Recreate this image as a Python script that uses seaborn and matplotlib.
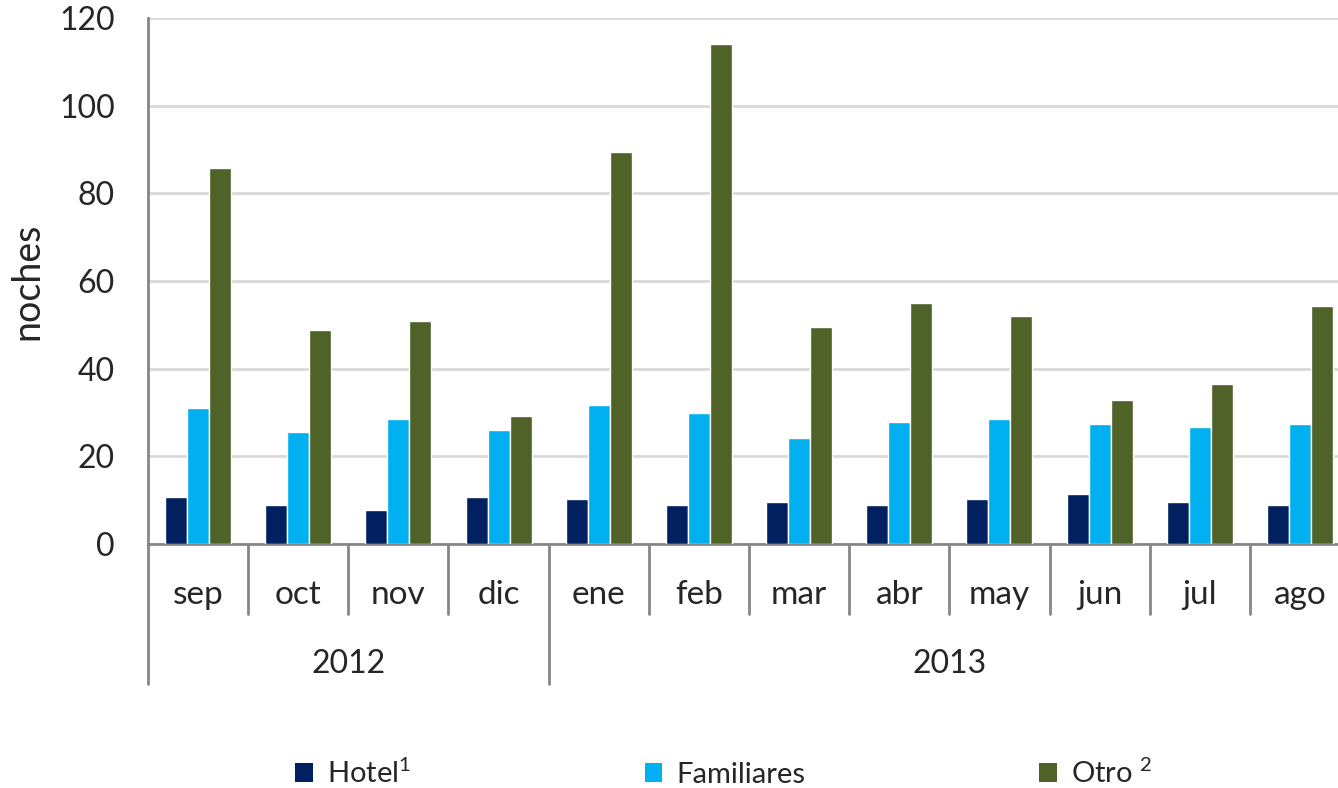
import pandas as pd
import seaborn as sns
import matplotlib.pyplot as plt
from matplotlib.patches import Patch
from matplotlib.transforms import blended_transform_factory

# Data
months = ['sep', 'oct', 'nov', 'dic', 'ene', 'feb', 'mar', 'abr', 'may', 'jun', 'jul', 'ago']
years = ['2012', '2013']
months_per_year = [4, 8]
hotel = [10.7, 8.9, 7.8, 10.7, 10.3, 8.9, 9.6, 8.9, 10.3, 11.4, 9.6, 8.9]
familiares = [31.0, 25.5, 28.5, 26.0, 31.7, 29.9, 24.2, 27.8, 28.5, 27.4, 26.7, 27.4]
otro = [85.8, 48.8, 50.9, 29.2, 89.4, 114.1, 49.5, 55.0, 52.0, 32.9, 36.5, 54.3]
series_names = ['Hotel', 'Familiares', 'Otro']
legend_labels = ['Hotel$^{\\mathrm{1}}$', 'Familiares', 'Otro $^{\\mathrm{2}}$']
colors = ['#002060', '#00B0F0', '#4F6228']

# Long format for seaborn
df = pd.DataFrame({'mes': months, 'Hotel': hotel, 'Familiares': familiares, 'Otro': otro})
df = df.melt(id_vars='mes', var_name='tipo', value_name='noches')

sns.set_style('white')
plt.rcParams['font.family'] = ['Lato', 'DejaVu Sans']
plt.rcParams['mathtext.fontset'] = 'custom'
plt.rcParams['mathtext.rm'] = 'Lato'

fig = plt.figure(figsize=(13.38, 7.88), dpi=100)
ax = fig.add_axes([148 / 1338, 1 - 544 / 788, 1202 / 1338, 526 / 788])

sns.barplot(data=df, x='mes', y='noches', hue='tipo', order=months,
            hue_order=series_names, palette=colors, width=0.66, gap=0,
            saturation=1, ax=ax, legend=False, zorder=3)

axis_grey = '#868686'
ax.set_ylim(0, 120)
ax.set_xlim(-0.5, len(months) - 0.5)
ax.set_yticks(range(0, 121, 20))
ax.tick_params(axis='y', labelsize=23, length=10, width=2, color=axis_grey, pad=14)
ax.yaxis.grid(True, color='#D9D9D9', linewidth=2, zorder=0)
ax.set_axisbelow(True)
ax.set_ylabel('noches', fontsize=27, labelpad=10)
ax.set_xlabel('')
ax.set_xticks([])

for side in ['top', 'right']:
    ax.spines[side].set_visible(False)
for side in ['left', 'bottom']:
    ax.spines[side].set_color(axis_grey)
    ax.spines[side].set_linewidth(2)

# Two-level category axis: months then years
trans = blended_transform_factory(ax.transData, ax.transAxes)
h = 526.0
for i, m in enumerate(months):
    ax.text(i, -51 / h, m, transform=trans, ha='center', va='center', fontsize=24)

bounds = [-0.5]
for n in months_per_year:
    bounds.append(bounds[-1] + n)
for b in range(1, len(months)):
    x = b - 0.5
    depth = -140 / h if x in bounds else -70 / h
    ax.plot([x, x], [0, depth], transform=trans, color=axis_grey, lw=2, clip_on=False)
ax.plot([-0.5, -0.5], [0, -140 / h], transform=trans, color=axis_grey, lw=2, clip_on=False)

for y, a, b in zip(years, bounds[:-1], bounds[1:]):
    ax.text((a + b) / 2, -120 / h, y, transform=trans, ha='center', va='center', fontsize=23)

handles = [Patch(facecolor=c, edgecolor='none') for c in colors]
fig.legend(handles, legend_labels, loc='center', bbox_to_anchor=(0.541, 1 - 773 / 788),
           ncol=3, frameon=False, fontsize=21, handlelength=0.6, handleheight=0.6,
           handletextpad=0.5, columnspacing=8.0)

fig.savefig('out.png', dpi=100)
